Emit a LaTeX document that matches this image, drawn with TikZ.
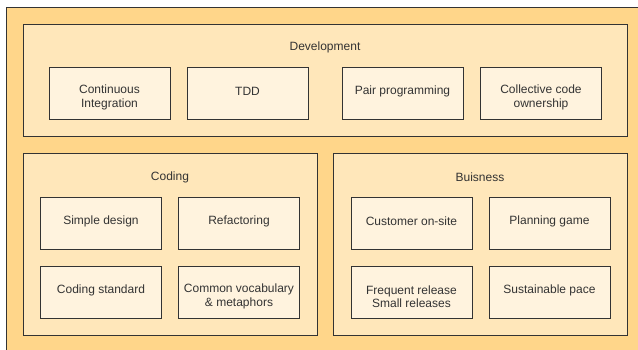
\documentclass[tikz,border=0pt]{standalone}
\usepackage{fontspec}
\setmainfont{Liberation Sans}
\definecolor{outerfill}{HTML}{FFD68A}
\definecolor{groupfill}{HTML}{FFE7BA}
\definecolor{itemfill}{HTML}{FFF3DE}
\definecolor{edgecol}{HTML}{333333}
\definecolor{textcol}{HTML}{333333}
\begin{document}
\begin{tikzpicture}[x=1pt,y=-1pt,
  frame/.style={draw=edgecol,line width=0.9pt},
  group/.style={frame,fill=groupfill},
  item/.style={frame,fill=itemfill,minimum width=121pt,minimum height=52pt,inner sep=0pt},
  words/.style={text=textcol,font=\fontsize{12}{13.5}\selectfont,inner sep=0pt,align=center},
  one/.style={words,yshift=2pt},
  two/.style={words,yshift=-4.5pt},
  title/.style={text=textcol,font=\fontsize{12}{14}\selectfont,inner sep=0pt}]
\useasboundingbox (0,0) rectangle (638,349);
\clip (0,0) rectangle (638,349);
\fill[white] (0,0) rectangle (638,349);
% outer container, running past the right and bottom edges
\draw[frame,fill=outerfill] (6,7) rectangle (660,370);
% Development
\draw[group] (23,24) rectangle (627,136);
\node[title] (devt) at (325,47) {Development};
\node[item] (ci) at (109.5,93) {};
\node[two] (ci-t) at (ci.center) {Continuous\\Integration};
\node[item] (tdd) at (247.5,93) {};
\node[one] (tdd-t) at (tdd.center) {TDD};
\node[item] (pair) at (402.5,93) {};
\node[one] (pair-t) at (pair.center) {Pair programming};
\node[item] (own) at (541,93) {};
\node[two] (own-t) at (own.center) {Collective code\\ownership};
% Coding
\draw[group] (23,153) rectangle (317,335);
\node[title] (codt) at (170,177) {Coding};
\node[item] (simple) at (101,223) {};
\node[one] (simple-t) at (simple.center) {Simple design};
\node[item] (refac) at (239,223) {};
\node[one] (refac-t) at (refac.center) {Refactoring};
\node[item] (std) at (101,292) {};
\node[one] (std-t) at (std.center) {Coding standard};
\node[item] (vocab) at (239,292) {};
\node[two] (vocab-t) at (vocab.center) {Common vocabulary\\\& metaphors};
% Buisness
\draw[group] (333,153) rectangle (627,335);
\node[title] (bust) at (480,177) {Buisness};
\node[item] (cust) at (411.5,223) {};
\node[one] (cust-t) at (cust.center) {Customer on-site};
\node[item] (plan) at (549.5,223) {};
\node[one] (plan-t) at (plan.center) {Planning game};
\node[item] (rel) at (411.5,292) {};
\node[two] (rel-t) at (rel.center) {Frequent release\\Small releases};
\node[item] (pace) at (549.5,292) {};
\node[one] (pace-t) at (pace.center) {Sustainable pace};
\end{tikzpicture}
\end{document}
